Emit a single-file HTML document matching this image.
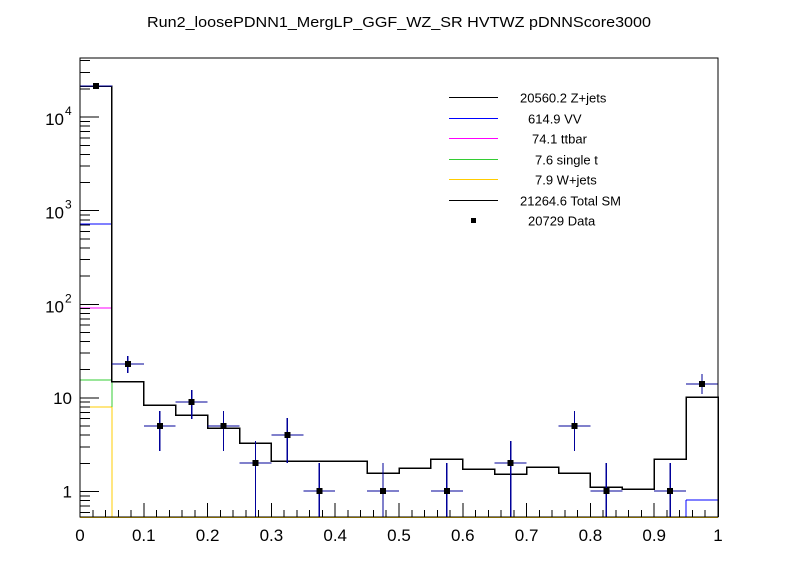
<!DOCTYPE html>
<html><head><meta charset="utf-8"><style>
html,body{margin:0;padding:0;background:#fff;}
svg{display:block;font-family:"Liberation Sans",sans-serif;}
</style></head><body>
<svg id="s" width="798" height="575" viewBox="0 0 798 575" xmlns="http://www.w3.org/2000/svg" shape-rendering="crispEdges">
<rect width="798" height="575" fill="#fff"/>
<text x="399" y="27" text-anchor="middle" font-size="15" textLength="504" lengthAdjust="spacingAndGlyphs">Run2_loosePDNN1_MergLP_GGF_WZ_SR HVTWZ  pDNNScore3000</text>
<g id="g"></g>
</svg>
<script>
const X0=80,X1=718,Y0=58,Y1=517;
const xp=v=>X0+(X1-X0)*v;
const yp=v=>491.5-93.6*Math.log10(v);
let h='';
const L=(x1,y1,x2,y2,c,w)=>h+=`<line x1="${x1}" y1="${y1}" x2="${x2}" y2="${y2}" stroke="${c}" stroke-width="${w||1}"/>`;
const bw=(X1-X0)/20;
L(X0,Y1,X1,Y1,'#ffcc00',1.5);
L(X0,407,X0+bw,407,'#ffcc00',1.2);
L(X0,380,X0+bw,380,'#33cc33',1.2);
L(X0,308,X0+bw,308,'#ff00ff',1.2);
L(X0,224,X0+bw,224,'#0000ff',1.2);
L(X0+bw,407,X0+bw,Y1,'#ffcc00',1.2);
L(X0+bw,380,X0+bw,407,'#33cc33',1.2);
L(X0+bw,308,X0+bw,380,'#ff00ff',1.2);
L(X0+bw,224,X0+bw,308,'#0000ff',1.2);
L(X1-bw,500,X1,500,'#0000ff',1.2);L(X1-bw,500,X1-bw,Y1,'#0000ff',1.2);
const lv=[86,381.5,405,415,428,443,461,461,461,473,468,459,469,474,467,473,487,489,459,397];
let d=`M${X0},86`;
lv.forEach((y,i)=>{d+=` H${X0+bw*(i+1)}`; if(i<19) d+=` V${lv[i+1]}`;});
h+=`<path d="${d} V${Y1}" fill="none" stroke="#000" stroke-width="1.5"/>`;
L(X0+bw,86,X0+bw,224,'#000',1.5);
const pts=[[0.025,86,84,88],[0.075,364,356,373],[0.125,426,411,451],[0.175,402,390,419],[0.225,426,411,451],[0.275,463,441,517],[0.325,435,418,463],[0.375,491,463,517],[0.475,491,463,517],[0.575,491,463,517],[0.675,463,441,517],[0.775,426,411,451],[0.825,491,463,517],[0.925,491,463,517],[0.975,384,374,394]];
pts.forEach(([v,y,a,b])=>{const x=xp(v);L(x-bw/2,y,x+bw/2,y,'#000099',1.3);L(x,a,x,b,'#000099',1.3);h+=`<rect x="${x-3}" y="${y-3}" width="6" height="6" fill="#000"/>`;});
h+=`<rect x="${X0}" y="${Y0}" width="${X1-X0}" height="${Y1-Y0}" fill="none" stroke="#000" stroke-width="1"/>`;
for(let i=0;i<=50;i++){const x=xp(i/50);const l=i%5==0?14:7;L(x,Y1,x,Y1-l,'#000',1);}
for(let i=0;i<=10;i++){h+=`<text x="${xp(i/10)}" y="541" text-anchor="middle" font-size="17">${i==0?'0':i==10?'1':'0.'+i}</text>`;}
for(let e=-1;e<=4;e++){for(let m=1;m<10;m++){const v=m*Math.pow(10,e);const y=yp(v);if(y<Y0||y>Y1)continue;L(X0,y,X0+(m==1?19:10),y,'#000',1);}}
h+=`<text x="72" y="${yp(1)+6}" text-anchor="end" font-size="17">1</text>`;
h+=`<text x="72" y="${yp(10)+6}" text-anchor="end" font-size="17">10</text>`;
[2,3,4].forEach(e=>{h+=`<text x="64" y="${yp(Math.pow(10,e))+8}" text-anchor="end" font-size="17">10</text><text x="65" y="${yp(Math.pow(10,e))-2}" font-size="12">${e}</text>`;});
const leg=[['#000000','20560.2 Z+jets',520],['#0000ff','614.9 VV',528],['#ff00ff','74.1 ttbar',532],['#33cc33','7.6 single t',535],['#ffcc00','7.9 W+jets',535],['#000000','21264.6 Total SM',520],[null,'20729 Data',528]];
leg.forEach(([c,t,x],i)=>{const y=Math.round(97+20.5*i)+0.5;if(c)h+=`<rect x="449" y="${y-0.5}" width="49" height="1.2" fill="${c}"/>`;else h+=`<rect x="471" y="${y-2.5}" width="5" height="5" fill="#000"/>`;h+=`<text x="${x}" y="${y+5}" font-size="13">${t}</text>`;});
document.getElementById('g').innerHTML=h;
</script>
</body></html>
